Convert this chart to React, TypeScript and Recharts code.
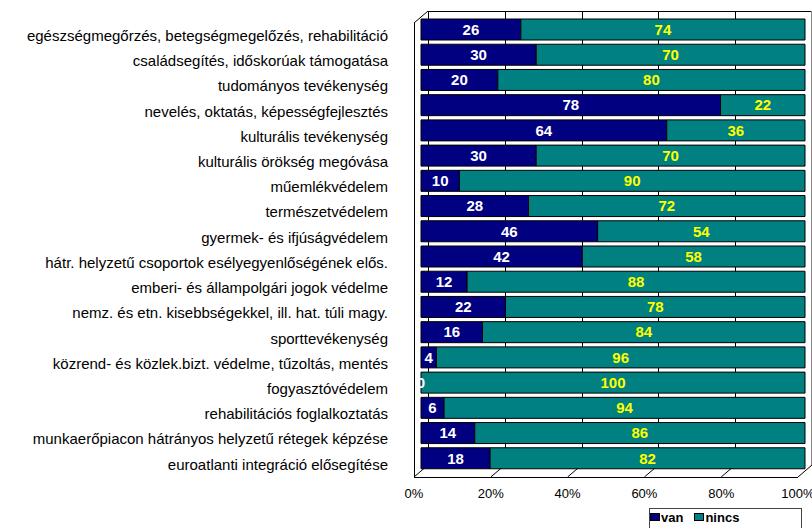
import { BarChart, Bar, XAxis, YAxis, LabelList, Legend } from 'recharts'

const categories = [
  'egészségmegőrzés, betegségmegelőzés, rehabilitáció',
  'családsegítés, időskorúak támogatása',
  'tudományos tevékenység',
  'nevelés, oktatás, képességfejlesztés',
  'kulturális tevékenység',
  'kulturális örökség megóvása',
  'műemlékvédelem',
  'természetvédelem',
  'gyermek- és ifjúságvédelem',
  'hátr. helyzetű csoportok esélyegyenlőségének elős.',
  'emberi- és állampolgári jogok védelme',
  'nemz. és etn. kisebbségekkel, ill. hat. túli magy.',
  'sporttevékenység',
  'közrend- és közlek.bizt. védelme, tűzoltás, mentés',
  'fogyasztóvédelem',
  'rehabilitációs foglalkoztatás',
  'munkaerőpiacon hátrányos helyzetű rétegek képzése',
  'euroatlanti integráció elősegítése',
]
const vanValues = [26, 30, 20, 78, 64, 30, 10, 28, 46, 42, 12, 22, 16, 4, 0, 6, 14, 18]
const nincsValues = [74, 70, 80, 22, 36, 70, 90, 72, 54, 58, 88, 78, 84, 96, 100, 94, 86, 82]
const xTicks = [0, 20, 40, 60, 80, 100]

const seriesNames = { van: 'van', nincs: 'nincs' }
const colors = { van: '#000080', nincs: '#008080' }

const data = categories.map((name, i) => ({ name, van: vanValues[i], nincs: nincsValues[i] }))

const W = 812
const H = 528
const FONT = '"Liberation Sans", Arial, sans-serif'
// plot area (mid-depth plane of the 3d box)
const PLOT = { left: 421, top: 17, right: 805, bottom: 471 }
const DX = 7
const DY = 6
const PX_PER_UNIT = (PLOT.right - PLOT.left) / 100

// 3d box behind the bars: back wall with gridlines, floor and front edges
function Frame() {
  const at = (v: number, plane: number) => PLOT.left + plane * DX + v * PX_PER_UNIT
  const frontTop = PLOT.top + DY
  const frontBottom = PLOT.bottom + DY
  const backTop = PLOT.top - DY
  const backBottom = PLOT.bottom - DY
  return (
    <svg width={W} height={H} style={{ position: 'absolute', left: 0, top: 0 }}>
      <g stroke="#000" strokeWidth={1} fill="none" shapeRendering="crispEdges">
        {xTicks.map(t => (
          <line key={'g' + t} x1={at(t, 1) + 0.5} x2={at(t, 1) + 0.5} y1={backTop} y2={backBottom} />
        ))}
        <line x1={at(0, 1)} x2={at(100, 1)} y1={backTop + 0.5} y2={backTop + 0.5} />
        <line x1={at(0, -1)} x2={at(100, -1)} y1={frontBottom + 0.5} y2={frontBottom + 0.5} />
        <line x1={at(0, -1) + 0.5} x2={at(0, -1) + 0.5} y1={frontTop} y2={frontBottom} />
      </g>
      <g stroke="#000" strokeWidth={1} fill="none">
        {xTicks.map(t => (
          <line key={'f' + t} x1={at(t, -1)} y1={frontBottom} x2={at(t, 1)} y2={backBottom} />
        ))}
        <line x1={at(0, -1)} y1={frontTop} x2={at(0, 1)} y2={backTop} />
      </g>
      <line x1={at(100, 1) - 0.5} x2={at(100, 1) - 0.5} y1={backTop} y2={backBottom} stroke="#888" />
    </svg>
  )
}

const CategoryTick = ({ x, y, payload }: any) => (
  <text x={x - 33} y={y + DY} dy="0.355em" textAnchor="end" fontSize={15} fontFamily={FONT} fill="#000">
    {payload.value}
  </text>
)

const PercentTick = ({ x, y, payload }: any) => (
  <text x={x - DX} y={y} dy="0.71em" textAnchor="middle" fontSize={13} fontFamily={FONT} fill="#000">
    {payload.value}%
  </text>
)

// "van" labels are drawn from the last series so they sit on top of every bar (the 0 one too)
const VanLabel = (props: any) => {
  const { x, y, height, index } = props
  const v = data[index].van
  return (
    <text
      x={x - (v * PX_PER_UNIT) / 2}
      y={y + height / 2}
      dy="0.355em"
      textAnchor="middle"
      fill="#fff"
      fontSize={15}
      fontWeight="bold"
      fontFamily={FONT}
    >
      {v}
    </text>
  )
}

const LegendBox = () => (
  <div
    style={{
      border: '1px solid #444',
      width: 153,
      height: 22,
      boxSizing: 'border-box',
      display: 'flex',
      alignItems: 'flex-start',
      paddingTop: 2,
      paddingLeft: 0,
      fontFamily: FONT,
      fontSize: 13,
      fontWeight: 'bold',
      lineHeight: '13px',
      background: '#fff',
    }}
  >
    {(['van', 'nincs'] as const).map(k => (
      <span key={k} style={{ display: 'flex', alignItems: 'flex-start', marginRight: 11 }}>
        <span
          style={{
            width: 8,
            height: 6,
            marginTop: 2,
            background: colors[k],
            border: '1px solid #000',
            marginRight: 1,
          }}
        />
        {seriesNames[k]}
      </span>
    ))}
  </div>
)

export default function App() {
  return (
    <div style={{ position: 'absolute', left: 0, top: 0, width: W, height: H, background: '#fff', overflow: 'hidden' }}>
      <Frame />
      <div style={{ position: 'absolute', left: 0, top: 0 }}>
        <BarChart
          width={W}
          height={H}
          data={data}
          layout="vertical"
          margin={{ top: PLOT.top, right: W - PLOT.right, bottom: H - PLOT.bottom - 30, left: 0 }}
          barSize={21}
        >
          <XAxis
            type="number"
            domain={[0, 100]}
            ticks={xTicks}
            height={30}
            axisLine={false}
            tickLine={false}
            tickSize={0}
            tickMargin={18}
            tick={<PercentTick />}
            interval={0}
          />
          <YAxis
            type="category"
            dataKey="name"
            width={PLOT.left}
            axisLine={false}
            tickLine={false}
            tickSize={0}
            tickMargin={0}
            tick={<CategoryTick />}
            interval={0}
          />
          <Legend
            layout="vertical"
            align="center"
            verticalAlign="middle"
            content={<LegendBox />}
            wrapperStyle={{ left: 649, top: 508, width: 153 }}
          />
          <Bar dataKey="van" name={seriesNames.van} stackId="a" fill={colors.van} stroke="#000" strokeWidth={1} isAnimationActive={false} />
          <Bar dataKey="nincs" name={seriesNames.nincs} stackId="a" fill={colors.nincs} stroke="#000" strokeWidth={1} isAnimationActive={false}>
            <LabelList dataKey="nincs" position="center" fill="#ffff00" fontSize={15} fontWeight="bold" fontFamily={FONT} />
            <LabelList dataKey="van" content={<VanLabel />} />
          </Bar>
        </BarChart>
      </div>
    </div>
  )
}
